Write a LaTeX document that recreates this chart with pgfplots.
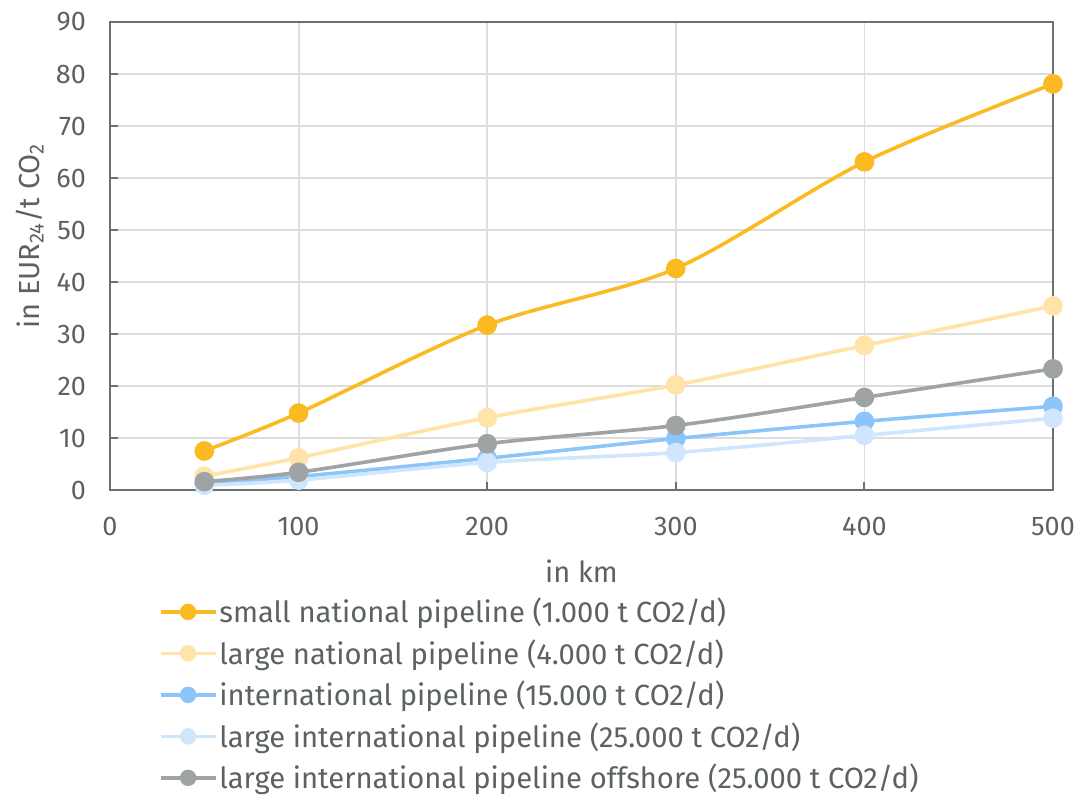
\documentclass[border=0pt]{standalone}
\usepackage{pgfplots}
\pgfplotsset{compat=1.18}
\usepackage{fontspec}
\setmainfont{Fira Sans}
\definecolor{cA}{HTML}{FBBA22}
\definecolor{cB}{HTML}{FFE3A8}
\definecolor{cC}{HTML}{8CC5FA}
\definecolor{cD}{HTML}{CFE6FD}
\definecolor{cE}{HTML}{A0A3A4}
\definecolor{gridc}{HTML}{DDDDDD}
\definecolor{axc}{HTML}{6B7070}
\definecolor{txtc}{HTML}{5C6262}
\begin{document}
\begin{tikzpicture}
\begin{axis}[
  scale only axis, width=471.5pt, height=234pt,
  xmin=0, xmax=500, ymin=0, ymax=90,
  xtick={0,100,...,500}, ytick={0,10,...,90},
  grid=major, major grid style={draw=gridc, line width=0.9pt},
  axis line style={draw=axc, line width=1.2pt},
  tick align=inside, xtick pos=bottom, ytick pos=left,
  major tick length=4pt, tick style={draw=axc, line width=1pt},
  ticklabel style={font=\fontsize{13.5}{15}\selectfont, text=txtc},
  xticklabel style={yshift=-10pt},
  yticklabel style={xshift=-8.5pt},
  /pgf/number format/assume math mode=true,
  xlabel={in km}, ylabel={in EUR\textsubscript{24}/t CO\textsubscript{2}},
  label style={font=\fontsize{14.5}{16}\selectfont, text=txtc},
  xlabel style={yshift=-5pt},
  ylabel style={at={(axis description cs:-0.085,0.543)}, anchor=center},
  legend style={at={(0.045,-0.213)}, anchor=north west, draw=none, fill=none,
    font=\fontsize{14.6}{16}\selectfont, text=txtc, row sep=2.9pt,
    nodes={inner xsep=1pt},
    /tikz/every even column/.append style={column sep=0pt}},
  legend cell align=left,
  legend image code/.code={\draw[mark repeat=2,mark phase=2,mark size=3.2pt,#1] plot coordinates {(0pt,0pt) (13.75pt,0pt) (27.5pt,0pt)};},
  every axis plot/.append style={line width=1.8pt, smooth, mark=*, mark size=4pt},
]
\addplot[color=cA, mark options={fill=cA, draw=cA}] coordinates {(50,7.5) (100,14.8) (200,31.7) (300,42.6) (400,63.1) (500,78.1)};
\addlegendentry{small national pipeline (1.000 t CO2/d)}
\addplot[color=cB, mark options={fill=cB, draw=cB}] coordinates {(50,2.65) (100,6.2) (200,13.9) (300,20.2) (400,27.8) (500,35.4)};
\addlegendentry{large national pipeline (4.000 t CO2/d)}
\addplot[color=cC, mark options={fill=cC, draw=cC}] coordinates {(50,1.3) (100,2.6) (200,6.1) (300,9.9) (400,13.2) (500,16.1)};
\addlegendentry{international pipeline (15.000 t CO2/d)}
\addplot[color=cD, mark options={fill=cD, draw=cD}] coordinates {(50,0.9) (100,1.9) (200,5.3) (300,7.2) (400,10.5) (500,13.8)};
\addlegendentry{large international pipeline (25.000 t CO2/d)}
\addplot[color=cE, mark options={fill=cE, draw=cE}] coordinates {(50,1.6) (100,3.4) (200,8.9) (300,12.4) (400,17.8) (500,23.3)};
\addlegendentry{large international pipeline offshore (25.000 t CO2/d)}
\end{axis}
\pgfresetboundingbox
\path (-55pt,-153pt) rectangle (485.5pt,245pt);
\end{tikzpicture}
\end{document}
